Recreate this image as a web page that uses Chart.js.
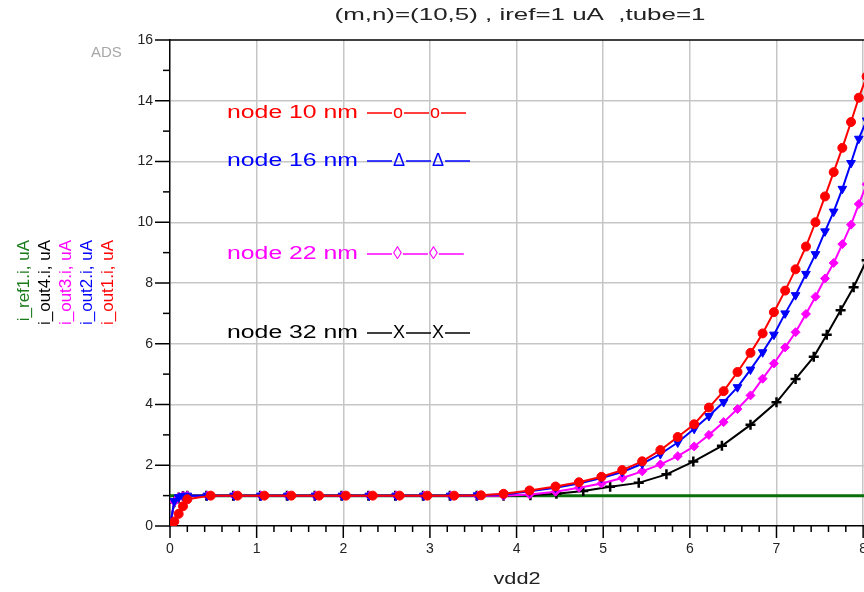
<!DOCTYPE html>
<html>
<head>
<meta charset="utf-8">
<script src="https://cdn.jsdelivr.net/npm/chart.js@4.4.1/dist/chart.umd.min.js"></script>
<style>
  body { margin: 0; background: #fff; }
  #caixa { width: 864px; height: 592px; position: relative; }
</style>
</head>
<body>
<div id="caixa"><canvas id="grafico"></canvas></div>
<script>
const vdd2 = [0, 0.05, 0.1, 0.15, 0.2, 0.43, 0.74, 1.05, 1.36, 1.68, 1.99, 2.3, 2.61, 2.93, 3.24, 3.55,
	3.85, 4.15, 4.45, 4.72, 4.98, 5.22, 5.45, 5.66, 5.86, 6.05, 6.22, 6.39, 6.55, 6.7,
	6.84, 6.97, 7.1, 7.22, 7.34, 7.45, 7.56, 7.66, 7.76, 7.86, 7.95, 8.04];

const vdd2Out1 = [0, 0.05, 0.1, 0.15, 0.2, 0.47, 0.78, 1.09, 1.4, 1.72, 2.03, 2.34, 2.65, 2.97, 3.28, 3.59,
	3.85, 4.15, 4.45, 4.72, 4.98, 5.22, 5.45, 5.66, 5.86, 6.05, 6.22, 6.39, 6.55, 6.7,
	6.84, 6.97, 7.1, 7.22, 7.34, 7.45, 7.56, 7.66, 7.76, 7.86, 7.95, 8.04];

const vdd2Out4 = [0, 0.05, 0.1, 0.15, 0.2, 0.42, 0.73, 1.04, 1.35, 1.67, 1.98, 2.29, 2.6, 2.92, 3.23, 3.54,
	3.85, 4.16, 4.46, 4.77, 5.08, 5.41, 5.73, 6.04, 6.37, 6.7, 7.0, 7.22, 7.43, 7.58,
	7.74, 7.89, 8.04];

const iOut1 = [0, 0.15, 0.4, 0.65, 0.88, 1, 1, 1, 1, 1, 1, 1, 1, 1, 1, 1.01,
	1.06, 1.17, 1.3, 1.44, 1.62, 1.84, 2.13, 2.5, 2.93, 3.35, 3.9, 4.44, 5.07, 5.7,
	6.34, 7.04, 7.75, 8.45, 9.2, 10.0, 10.85, 11.65, 12.45, 13.3, 14.1, 14.8];

const iOut2 = [0, 0.82, 0.95, 0.99, 1, 1, 1, 1, 1, 1, 1, 1, 1, 1, 1, 1.01,
	1.04, 1.14, 1.26, 1.4, 1.58, 1.78, 2.05, 2.37, 2.75, 3.2, 3.62, 4.08, 4.57, 5.15,
	5.72, 6.3, 7.0, 7.6, 8.3, 8.95, 9.7, 10.35, 11.1, 11.95, 12.75, 13.35];

const iOut3 = [0, 0.8, 0.95, 0.99, 1, 1, 1, 1, 1, 1, 1, 1, 1, 1, 1, 1,
	1.0, 1.04, 1.13, 1.26, 1.4, 1.58, 1.8, 2.03, 2.3, 2.62, 3.0, 3.42, 3.85, 4.3,
	4.85, 5.35, 5.88, 6.38, 6.98, 7.55, 8.15, 8.66, 9.28, 9.92, 10.6, 11.25];

const iOut4 = [0, 0.78, 0.94, 0.99, 1, 1, 1, 1, 1, 1, 1, 1, 1, 1, 1, 1,
	1.0, 1.01, 1.06, 1.15, 1.29, 1.42, 1.7, 2.12, 2.64, 3.33, 4.07, 4.84, 5.57, 6.3,
	7.1, 7.86, 8.75];

const refX = [0, 8.04];
const iRef1 = [1, 1];

const nomesEixoY = ['i_ref1.i, uA', 'i_out4.i, uA', 'i_out3.i, uA', 'i_out2.i, uA', 'i_out1.i, uA'];
const coresEixoY = ['#1a7a1a', '#000000', '#ff00ff', '#0000ff', '#ff0000'];

const legendaNomes = ['node 10 nm', 'node 16 nm', 'node 22 nm', 'node 32 nm'];
const legendaSimbolos = ['o', 'Δ', '◊', 'X'];
const legendaCores = ['#ff0000', '#0000ff', '#ff00ff', '#000000'];

const titulo = '(m,n)=(10,5) , iref=1 uA  ,tube=1';
const tituloX = 'vdd2';

function pontos(xs, ys) {
	return xs.map((x, i) => ({ x: x, y: ys[i] }));
}

const FONTE = '"Liberation Sans", Arial, sans-serif';

// texto esticado na horizontal ate a largura pedida (o ADS desenha as letras largas)
function textoLargo(ctx, txt, x, y, largura, alinhar) {
	const w = ctx.measureText(txt).width;
	const f = largura / w;
	let x0 = x;
	if (alinhar === 'center') x0 = x - largura / 2;
	ctx.save();
	ctx.translate(x0, y);
	ctx.scale(f, 1);
	ctx.textAlign = 'left';
	ctx.fillText(txt, 0, 0);
	ctx.restore();
}

const desenhosExtras = {
	id: 'desenhosExtras',
	beforeDatasetsDraw(chart) {
		const ctx = chart.ctx;
		const a = chart.chartArea;
		const sx = chart.scales.x;
		const sy = chart.scales.y;
		ctx.save();
		ctx.strokeStyle = '#000';
		ctx.lineWidth = 1.5;
		ctx.beginPath();
		ctx.moveTo(a.left, sy.getPixelForValue(16));
		ctx.lineTo(a.right, sy.getPixelForValue(16));
		ctx.stroke();
		for (let v = 0; v <= 16; v++) {
			const y = sy.getPixelForValue(v);
			const len = v % 2 === 0 ? 15 : 7;
			ctx.beginPath();
			ctx.moveTo(a.left - len, y);
			ctx.lineTo(a.left, y);
			ctx.stroke();
		}
		for (let k = 0; k <= 40; k++) {
			const x = sx.getPixelForValue(k * 0.2);
			const len = k % 5 === 0 ? 12 : 6;
			ctx.beginPath();
			ctx.moveTo(x, a.bottom);
			ctx.lineTo(x, a.bottom + len);
			ctx.stroke();
		}
		ctx.restore();
	},
	afterDraw(chart) {
		const ctx = chart.ctx;
		ctx.save();
		ctx.textBaseline = 'middle';

		ctx.fillStyle = '#222';
		ctx.font = '17px ' + FONTE;
		textoLargo(ctx, titulo, 520, 15, 371, 'center');
		ctx.font = '16px ' + FONTE;
		textoLargo(ctx, tituloX, 517, 580, 47, 'center');

		ctx.fillStyle = '#a8a8a8';
		ctx.font = '15px ' + FONTE;
		ctx.textAlign = 'left';
		ctx.fillText('ADS', 91, 53);

		ctx.font = '17px ' + FONTE;
		nomesEixoY.forEach((nome, i) => {
			ctx.save();
			ctx.translate(24 + i * 21, 240);
			ctx.rotate(-Math.PI / 2);
			ctx.textAlign = 'right';
			ctx.fillStyle = coresEixoY[i];
			ctx.fillText(nome, 0, 0);
			ctx.restore();
		});

		const linhasY = [113, 161, 254, 333];
		ctx.font = '18px ' + FONTE;
		legendaNomes.forEach((nome, i) => {
			const y = linhasY[i];
			ctx.fillStyle = legendaCores[i];
			ctx.strokeStyle = legendaCores[i];
			ctx.lineWidth = 1.5;
			textoLargo(ctx, nome, 227, y, 131, 'left');
			let x = 367;
			for (let k = 0; k < 3; k++) {
				ctx.beginPath();
				ctx.moveTo(x, y);
				ctx.lineTo(x + 25, y);
				ctx.stroke();
				x += 25;
				if (k < 2) {
					const simb = legendaSimbolos[i];
					const w = ctx.measureText(simb).width;
					ctx.textAlign = 'left';
					ctx.fillText(simb, x + 1, y);
					x += w + 2;
				}
			}
		});
		ctx.restore();
	}
};

const ctx = document.getElementById('grafico').getContext('2d');
const grafico = new Chart(ctx, {
	type: 'line',
	data: {
		datasets: [
			{
				label: 'i_out1.i',
				data: pontos(vdd2Out1, iOut1),
				borderColor: '#ff0000',
				backgroundColor: '#ff0000',
				borderWidth: 2,
				pointStyle: 'circle',
				pointRadius: 4.5,
				pointBorderWidth: 1,
				tension: 0,
				order: 1
			},
			{
				label: 'i_out2.i',
				data: pontos(vdd2, iOut2),
				borderColor: '#0000ff',
				backgroundColor: '#0000ff',
				borderWidth: 2,
				pointStyle: 'triangle',
				pointRotation: 180,
				pointRadius: 5,
				pointBorderWidth: 1,
				tension: 0,
				order: 2
			},
			{
				label: 'i_out3.i',
				data: pontos(vdd2, iOut3),
				borderColor: '#ff00ff',
				backgroundColor: '#ff00ff',
				borderWidth: 2,
				pointStyle: 'rectRot',
				pointRadius: 4.5,
				pointBorderWidth: 1,
				tension: 0,
				order: 3
			},
			{
				label: 'i_out4.i',
				data: pontos(vdd2Out4, iOut4),
				borderColor: '#000000',
				backgroundColor: '#000000',
				borderWidth: 2,
				pointStyle: 'cross',
				pointRadius: 5,
				pointBorderWidth: 2.5,
				tension: 0,
				order: 4
			},
			{
				label: 'i_ref1.i',
				data: pontos(refX, iRef1),
				borderColor: '#0a6e0a',
				borderWidth: 3,
				pointRadius: 0,
				tension: 0,
				order: 5
			}
		]
	},
	options: {
		responsive: true,
		maintainAspectRatio: false,
		animation: false,
		layout: { autoPadding: false, padding: { top: 40, left: 0, right: 0, bottom: 0 } },
		plugins: {
			legend: { display: false },
			tooltip: { enabled: false }
		},
		scales: {
			x: {
				type: 'linear',
				min: 0,
				max: 8.01,
				afterBuildTicks: (s) => {
					const marcas = [];
					for (let k = 0; k <= 40; k++) marcas.push({ value: Math.round(k * 2) / 10 });
					s.ticks = marcas;
				},
				afterFit: (s) => { s.height = 66; s.paddingLeft = 0; s.paddingRight = 0; },
				border: { display: true, color: '#000', width: 1.5 },
				grid: {
					drawTicks: false,
					lineWidth: 1.5,
					color: (c) => (c.tick && Math.abs(c.tick.value - Math.round(c.tick.value)) < 1e-6 && c.tick.value > 0) ? '#c6c6c6' : 'transparent'
				},
				ticks: {
					autoSkip: false,
					maxRotation: 0,
					padding: 15,
					color: '#222',
					font: { size: 14, family: FONTE },
					callback: (v) => Math.abs(v - Math.round(v)) < 1e-6 ? String(Math.round(v)) : ''
				}
			},
			y: {
				min: 0,
				max: 16,
				afterFit: (s) => { s.width = 170; s.paddingTop = 0; s.paddingBottom = 0; },
				border: { display: true, color: '#000', width: 1.5 },
				grid: {
					drawTicks: false,
					lineWidth: 1.5,
					color: (c) => (c.tick && c.tick.value % 2 === 0 && c.tick.value > 0 && c.tick.value < 16) ? '#c6c6c6' : 'transparent'
				},
				ticks: {
					stepSize: 1,
					autoSkip: false,
					padding: 17,
					color: '#222',
					font: { size: 14, family: FONTE },
					callback: (v) => v % 2 === 0 ? String(v) : ''
				}
			}
		}
	},
	plugins: [desenhosExtras]
});
</script>
</body>
</html>
